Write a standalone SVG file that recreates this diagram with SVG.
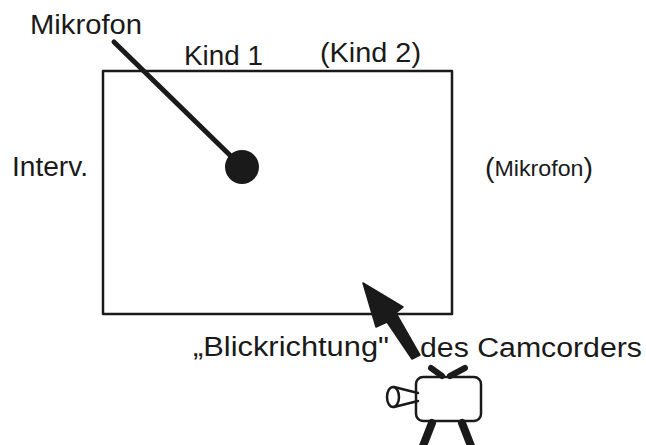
<svg xmlns="http://www.w3.org/2000/svg" width="646" height="445" viewBox="0 0 646 445">
  <style>
    .t { font-family: "Liberation Sans", Arial, sans-serif; fill: #1a1a1a; }
    .big { font-size: 27px; }
    .small { font-size: 22px; }
    .ink { stroke: #1a1a1a; fill: none; stroke-linecap: round; stroke-linejoin: round; }
  </style>
  <rect width="646" height="445" fill="#ffffff"/>

  <!-- room outline -->
  <g id="room">
    <rect x="103" y="71" width="349" height="243" class="ink" stroke-width="2.5"/>
  </g>

  <!-- microphone on boom -->
  <g id="mikrofon">
    <line x1="114" y1="42" x2="240" y2="165" class="ink" stroke-width="5"/>
    <circle cx="242" cy="167" r="17" fill="#1a1a1a"/>
    <text class="t big" x="30" y="34" textLength="112" lengthAdjust="spacingAndGlyphs">Mikrofon</text>
  </g>

  <g id="kind1">
    <text class="t big" x="184" y="65" textLength="79" lengthAdjust="spacingAndGlyphs">Kind 1</text>
  </g>
  <g id="kind2">
    <text class="t big" x="320" y="62" textLength="101" lengthAdjust="spacingAndGlyphs">(Kind 2)</text>
  </g>
  <g id="interv">
    <text class="t big" x="12" y="176" textLength="76" lengthAdjust="spacingAndGlyphs">Interv.</text>
  </g>
  <g id="mikrofon2">
    <text class="t small" x="485" y="176" textLength="108" lengthAdjust="spacingAndGlyphs"><tspan font-size="27" dy="1">(</tspan><tspan dy="-1">Mikrofon</tspan><tspan font-size="27" dy="1">)</tspan></text>
  </g>

  <!-- viewing direction arrow -->
  <g id="connectors">
    <path d="M363,283 L403,307 L396,313 L420,355 L412,359 L387,322 L376,327 Z" fill="#1a1a1a" stroke="#1a1a1a" stroke-width="1.5" stroke-linejoin="round"/>
  </g>

  <g id="blickrichtung">
    <text class="t big" x="193" y="356" textLength="196" lengthAdjust="spacingAndGlyphs">„Blickrichtung"</text>
    <text class="t big" x="420" y="357" textLength="222" lengthAdjust="spacingAndGlyphs">des Camcorders</text>
  </g>

  <!-- camcorder on tripod -->
  <g id="camcorder">
    <rect x="416" y="377" width="65" height="44" rx="7" class="ink" stroke-width="2.5"/>
    <ellipse cx="393" cy="397" rx="6" ry="10" class="ink" stroke-width="2.5"/>
    <line x1="394" y1="387" x2="418" y2="393" class="ink" stroke-width="2.5"/>
    <line x1="394" y1="407" x2="418" y2="401" class="ink" stroke-width="2.5"/>
    <line x1="431" y1="368" x2="442" y2="376" class="ink" stroke-width="6"/>
    <line x1="465" y1="368" x2="450" y2="376" class="ink" stroke-width="6"/>
    <line x1="432" y1="423" x2="423" y2="446" class="ink" stroke-width="8"/>
    <line x1="462" y1="423" x2="471" y2="446" class="ink" stroke-width="8"/>
  </g>
</svg>
